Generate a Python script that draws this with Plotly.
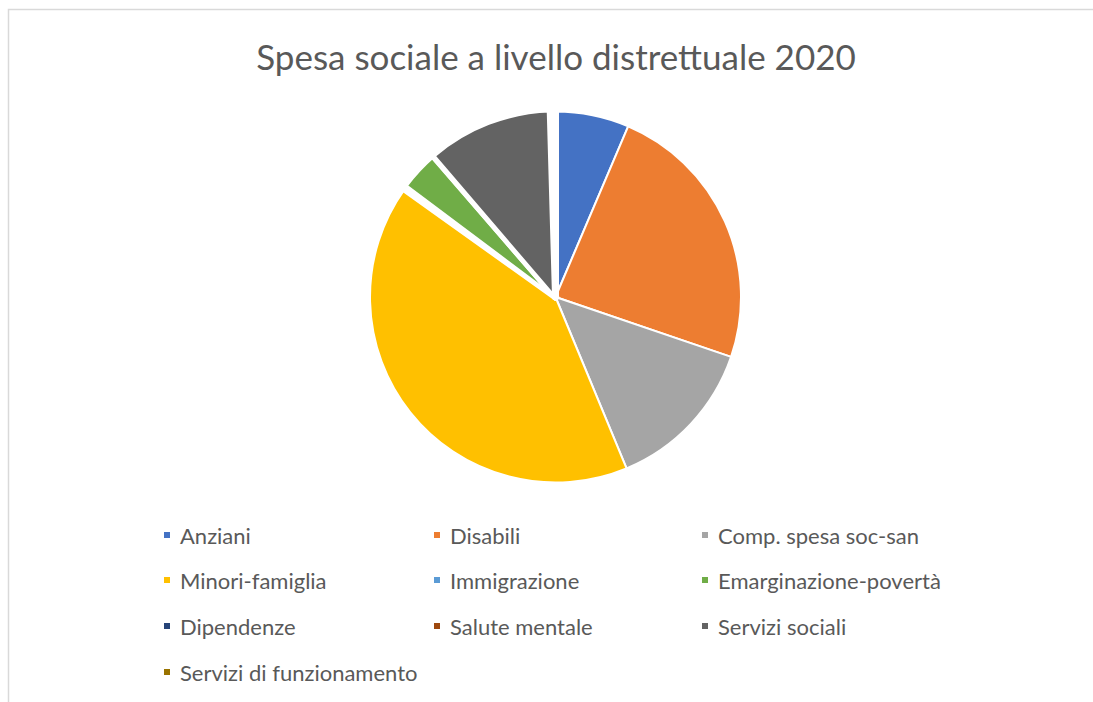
import plotly.graph_objects as go

# ---- data ----
labels = ["Anziani", "Disabili", "Comp. spesa soc-san", "Minori-famiglia",
          "Immigrazione", "Emarginazione-povertà", "Dipendenze", "Salute mentale",
          "Servizi sociali", "Servizi di funzionamento"]
values = [6.4, 23.8, 13.5, 41.1, 0.35, 3.4, 0.05, 0.05, 10.8, 0.45]
colors = ["#4472C4", "#ED7D31", "#A5A5A5", "#FFC000", "#5B9BD5",
          "#70AD47", "#264478", "#9E480E", "#636363", "#997300"]
title_text = "Spesa sociale a livello distrettuale 2020"

W, H = 1093, 702
FONT = "Lato"
TXT = "#595959"

def px(x):
    return x / W

def py(y):
    return 1 - y / H

# tiny slices are covered by their white outline, as in the reference
line_w = [7 if v < 1 else 2 for v in values]

fig = go.Figure()
fig.add_trace(go.Pie(
    labels=labels, values=values, sort=False, direction="clockwise", rotation=0,
    marker=dict(colors=colors, line=dict(color="white", width=line_w)),
    textinfo="none", hoverinfo="label+percent", showlegend=False,
    domain=dict(x=[px(370), px(741)], y=[py(483), py(111)]),
))

# manual legend (3 columns, 4 rows)
col_marker_x = [167, 437, 705]
row_y = [535, 580, 626, 672]
shapes = []
annotations = []
for i, (lab, col) in enumerate(zip(labels, colors)):
    r, c = divmod(i, 3)
    mx, my = col_marker_x[c], row_y[r]
    shapes.append(dict(type="rect", xref="paper", yref="paper",
                       x0=px(mx - 3), x1=px(mx + 3), y0=py(my + 3), y1=py(my - 3),
                       fillcolor=col, line=dict(width=0)))
    annotations.append(dict(text=lab, xref="paper", yref="paper",
                            x=px(mx + 11), y=py(my), xanchor="left", yanchor="middle",
                            showarrow=False, font=dict(family=FONT, size=22, color=TXT)))

# chart frame (top and left edges visible)
shapes.append(dict(type="rect", xref="paper", yref="paper",
                   x0=px(8.5), x1=px(W + 20), y0=py(H + 20), y1=py(9.5),
                   line=dict(color="#D9D9D9", width=1.5), fillcolor="rgba(0,0,0,0)"))

fig.update_layout(
    width=W, height=H,
    margin=dict(l=0, r=0, t=0, b=0),
    paper_bgcolor="white", plot_bgcolor="white",
    title=dict(text=title_text, x=px(556), xanchor="center", y=py(58), yanchor="middle",
               font=dict(family=FONT, size=35, color=TXT)),
    shapes=shapes, annotations=annotations,
)

fig.write_html("out.html")
